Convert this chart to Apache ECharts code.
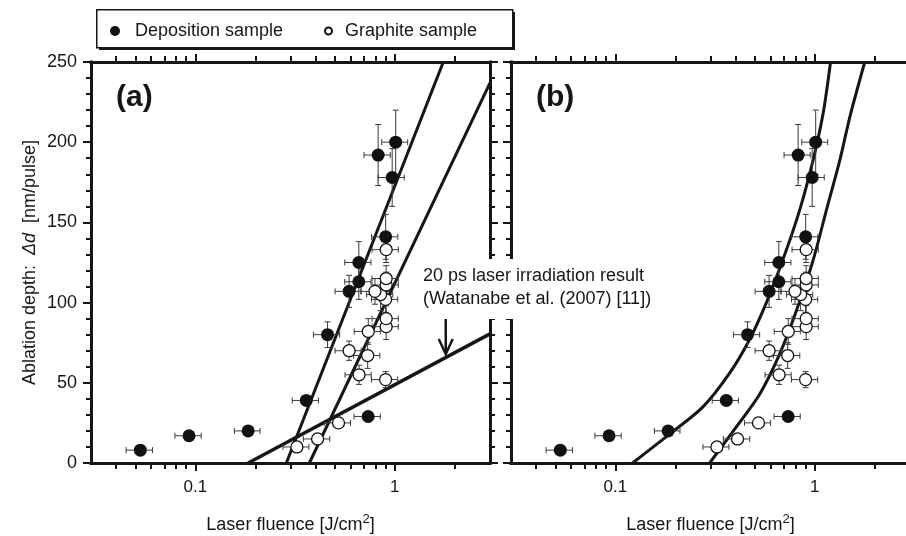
<!DOCTYPE html>
<html>
<head>
<meta charset="utf-8">
<script src="https://cdn.jsdelivr.net/npm/echarts@6/dist/echarts.min.js"></script>
<style>html,body{margin:0;padding:0;background:#fff}#chart{width:906px;height:536px}</style>
</head>
<body>
<div id="chart"></div>
<script>
// ---------- data ----------
// Deposition sample: fluence [J/cm2], depth [nm/pulse], fluence error, depth error
const depF    = [0.053, 0.093, 0.184, 0.36, 0.46, 0.59, 0.66, 0.66, 0.90, 0.735, 0.825, 0.97, 1.01];
const depD    = [8, 17, 20, 39, 80, 107, 113, 125, 141, 29, 192, 178, 200];
const depFerr = [0.008, 0.014, 0.027, 0.054, 0.069, 0.088, 0.099, 0.099, 0.135, 0.11, 0.124, 0.145, 0.15];
const depDerr = [1, 1, 1, 3, 8, 10, 11, 13, 14, 2, 19, 18, 20];
// Graphite sample
const graF    = [0.323, 0.41, 0.522, 0.662, 0.731, 0.59, 0.736, 0.899, 0.905, 0.905, 0.899, 0.849, 0.795, 0.905, 0.905, 0.905];
const graD    = [10, 15, 25, 55, 67, 70, 82, 52, 85, 90, 102, 105, 107, 111, 115, 133];
const graFerr = [0.048, 0.062, 0.078, 0.099, 0.11, 0.088, 0.11, 0.135, 0.136, 0.136, 0.135, 0.127, 0.119, 0.136, 0.136, 0.136];
const graDerr = [2, 2, 2, 6, 8, 6, 8, 5, 8, 8, 8, 10, 8, 8, 8, 8];

// Panel (a) fit lines (endpoints)
const fitDepA_F = [0.286, 1.75];  const fitDepA_D = [0, 250];
const fitGraA_F = [0.373, 3.0];   const fitGraA_D = [0, 237];
const fit20psA_F = [0.184, 3.0];  const fit20psA_D = [0, 80.5];

// Panel (b) model curves
const curveDepB_F = [0.122, 0.187, 0.275, 0.374, 0.471, 0.572, 0.693, 0.841, 0.981, 1.101, 1.199];
const curveDepB_D = [0, 18, 35, 56, 77, 100, 127, 158, 189, 218, 250];
const curveGraB_F = [0.297, 0.404, 0.530, 0.667, 0.809, 0.981, 1.145, 1.336, 1.50, 1.78];
const curveGraB_D = [0, 22.5, 43, 68, 95, 126.5, 158, 189, 216, 250];

// Annotation arrow: fluence, start depth, tip depth
const arrowF = [1.8]; const arrowFrom = [90]; const arrowTo = [68];

// Axis ticks
const xMajorTicks = [0.1, 1];
const xMinorTicks = [0.04, 0.05, 0.06, 0.07, 0.08, 0.09, 0.2, 0.3, 0.4, 0.5, 0.6, 0.7, 0.8, 0.9, 2];
const xMin = 0.03, xMax = 3;
const yMin = 0, yMax = 250, yStep = 50;

// ---------- helpers ----------
const FONT = "'Liberation Sans', Arial, sans-serif";
const INK = '#161616';
const zip2 = (a, b) => a.map((v, i) => [v, b[i]]);
const zip4 = (a, b, c, d) => a.map((v, i) => [v, b[i], c[i], d[i]]);

function errRender(params, api) {
  const x = api.value(0), y = api.value(1), xe = api.value(2), ye = api.value(3);
  const c = api.coord([x, y]);
  const l = api.coord([x - xe, y])[0];
  const r = api.coord([x + xe, y])[0];
  const t = api.coord([x, y + ye])[1];
  const b = api.coord([x, y - ye])[1];
  const cap = 3;
  const st = { stroke: '#3a3a3a', lineWidth: 1 };
  const ln = (x1, y1, x2, y2) => ({ type: 'line', shape: { x1, y1, x2, y2 }, style: st });
  return { type: 'group', children: [
    ln(l, c[1], r, c[1]), ln(l, c[1] - cap, l, c[1] + cap), ln(r, c[1] - cap, r, c[1] + cap),
    ln(c[0], t, c[0], b), ln(c[0] - cap, t, c[0] + cap, t), ln(c[0] - cap, b, c[0] + cap, b)
  ]};
}
function arrowRender(params, api) {
  const top = api.coord([api.value(0), api.value(1)]);
  const tip = api.coord([api.value(0), api.value(2)]);
  const st = { stroke: INK, lineWidth: 2.5, fill: null };
  return { type: 'group', children: [
    { type: 'line', shape: { x1: top[0], y1: top[1], x2: tip[0], y2: tip[1] }, style: st },
    { type: 'polyline', shape: { points: [[tip[0] - 7, tip[1] - 15], [tip[0], tip[1]], [tip[0] + 7, tip[1] - 15]] }, style: st }
  ]};
}

function xAxes(grid, withLabels) {
  const base = { type: 'log', logBase: 10, min: xMin, max: xMax, gridIndex: grid, splitLine: { show: false } };
  const line = { show: true, lineStyle: { color: INK, width: 3, cap: 'square' } };
  const major = (pos, labels) => Object.assign({}, base, {
    position: pos, axisLine: line,
    axisTick: { show: true, inside: false, length: 8, customValues: xMajorTicks, lineStyle: { color: INK, width: 2 } },
    axisLabel: { show: labels, customValues: xMajorTicks, margin: 16, fontSize: 17, fontFamily: FONT, color: INK,
                 formatter: v => String(Math.round(v * 1000) / 1000) },
    name: labels ? 'Laser fluence [J/cm{sup|2}]' : '', nameLocation: 'middle', nameGap: 50,
    nameTextStyle: { fontSize: 18, fontFamily: FONT, color: INK, lineHeight: 24,
      rich: { sup: { fontSize: 13, fontFamily: FONT, color: INK, verticalAlign: 'top', lineHeight: 14 } } }
  });
  const minor = (pos) => Object.assign({}, base, {
    position: pos, axisLine: { show: false },
    axisTick: { show: true, inside: false, length: 6, customValues: xMinorTicks, lineStyle: { color: INK, width: 2 } },
    axisLabel: { show: false }
  });
  return [major('bottom', withLabels), minor('bottom'), major('top', false), minor('top')];
}
function yAxes(grid, withLabels) {
  const mk = (pos, labels) => ({
    type: 'value', gridIndex: grid, position: pos, min: yMin, max: yMax, interval: yStep,
    splitLine: { show: false },
    axisLine: { show: true, lineStyle: { color: INK, width: 3, cap: 'square' } },
    axisTick: { show: true, inside: false, length: 8, lineStyle: { color: INK, width: 2 } },
    minorTick: { show: true, splitNumber: 5, length: 5, lineStyle: { color: INK, width: 2 } },
    axisLabel: { show: labels, margin: 14, fontSize: 18, fontFamily: FONT, color: INK },
    name: labels ? 'Ablation depth:  {i|Δd}  [nm/pulse]' : '', nameLocation: 'middle', nameGap: 52,
    nameTextStyle: { fontSize: 18, fontFamily: FONT, color: INK,
      rich: { i: { fontSize: 18, fontFamily: FONT, color: INK, fontStyle: 'italic' } } }
  });
  return [mk('left', withLabels), mk('right', false)];
}

function panelSeries(xi, yi, lines, withArrow) {
  const s = [];
  lines.forEach(l => s.push({
    type: 'line', xAxisIndex: xi, yAxisIndex: yi, data: l.data, showSymbol: false, symbol: 'none',
    smooth: l.smooth || false, lineStyle: { color: INK, width: l.w || 3 }, z: 3, silent: true, clip: true
  }));
  s.push({ type: 'custom', xAxisIndex: xi, yAxisIndex: yi, renderItem: errRender, encode: { x: 0, y: 1 },
           data: zip4(depF, depD, depFerr, depDerr), z: 4, silent: true });
  s.push({ type: 'custom', xAxisIndex: xi, yAxisIndex: yi, renderItem: errRender, encode: { x: 0, y: 1 },
           data: zip4(graF, graD, graFerr, graDerr), z: 4, silent: true });
  s.push({ type: 'scatter', name: 'Deposition sample', xAxisIndex: xi, yAxisIndex: yi, symbol: 'circle', symbolSize: 13,
           itemStyle: { color: '#111', borderColor: '#111', borderWidth: 0, opacity: 1 }, data: zip2(depF, depD), z: 5 });
  s.push({ type: 'scatter', name: 'Graphite sample', xAxisIndex: xi, yAxisIndex: yi, symbol: 'circle', symbolSize: 12,
           itemStyle: { color: '#fff', borderColor: '#111', borderWidth: 1.3, opacity: 1 }, data: zip2(graF, graD), z: 6 });
  if (withArrow) s.push({ type: 'custom', xAxisIndex: xi, yAxisIndex: yi, renderItem: arrowRender, encode: { x: 0, y: [1, 2] },
           data: arrowF.map((f, i) => [f, arrowFrom[i], arrowTo[i]]), z: 7, silent: true });
  return s;
}

const chart = echarts.init(document.getElementById('chart'), null, { renderer: 'canvas' });
const option = {
  animation: false,
  backgroundColor: '#fff',
  textStyle: { fontFamily: FONT },
  grid: [
    { left: 91, top: 62, width: 399, height: 401, containLabel: false, outerBoundsMode: 'none' },
    { left: 511, top: 62, width: 399, height: 401, containLabel: false, outerBoundsMode: 'none' }
  ],
  xAxis: [].concat(xAxes(0, true), xAxes(1, true)),
  yAxis: [].concat(yAxes(0, true), yAxes(1, false)),
  legend: [
    { data: ['Deposition sample'], left: 110, top: 22, itemWidth: 10, itemHeight: 10, selectedMode: false, padding: 0,
      textStyle: { fontSize: 18, fontFamily: FONT, color: INK, padding: [0, 0, 0, 10] } },
    { data: ['Graphite sample'], left: 324, top: 22, itemWidth: 7, itemHeight: 7, selectedMode: false, padding: 0,
      textStyle: { fontSize: 18, fontFamily: FONT, color: INK, padding: [0, 0, 0, 8] } }
  ],
  graphic: [
    { type: 'rect', left: 99, top: 12, shape: { width: 416, height: 38 }, style: { fill: INK }, z: -10 },
    { type: 'rect', left: 96, top: 9, shape: { width: 416, height: 38 }, style: { fill: '#fff', stroke: INK, lineWidth: 1.5 }, z: -9 },
    { type: 'text', left: 116, top: 83, z: 100, style: { text: '(a)', fontSize: 30, fontWeight: 'bold', fontFamily: FONT, fill: INK } },
    { type: 'text', left: 536, top: 83, z: 100, style: { text: '(b)', fontSize: 30, fontWeight: 'bold', fontFamily: FONT, fill: INK } },
    { type: 'rect', left: 418, top: 259, z: 90, shape: { width: 250, height: 60 }, style: { fill: '#fff' } },
    { type: 'text', left: 423, top: 267, z: 100, style: { text: '20 ps laser irradiation result', fontSize: 18, fontFamily: FONT, fill: INK } },
    { type: 'text', left: 423, top: 290, z: 100, style: { text: '(Watanabe et al. (2007) [11])', fontSize: 18, fontFamily: FONT, fill: INK } }
  ],
  series: [].concat(
    panelSeries(0, 0, [
      { data: zip2(fitDepA_F, fitDepA_D) },
      { data: zip2(fitGraA_F, fitGraA_D) },
      { data: zip2(fit20psA_F, fit20psA_D), w: 3.5 }
    ], true),
    panelSeries(4, 2, [
      { data: zip2(curveDepB_F, curveDepB_D), smooth: 0.3 },
      { data: zip2(curveGraB_F, curveGraB_D), smooth: 0.3 }
    ], false)
  )
};
chart.setOption(option);
</script>
</body>
</html>
